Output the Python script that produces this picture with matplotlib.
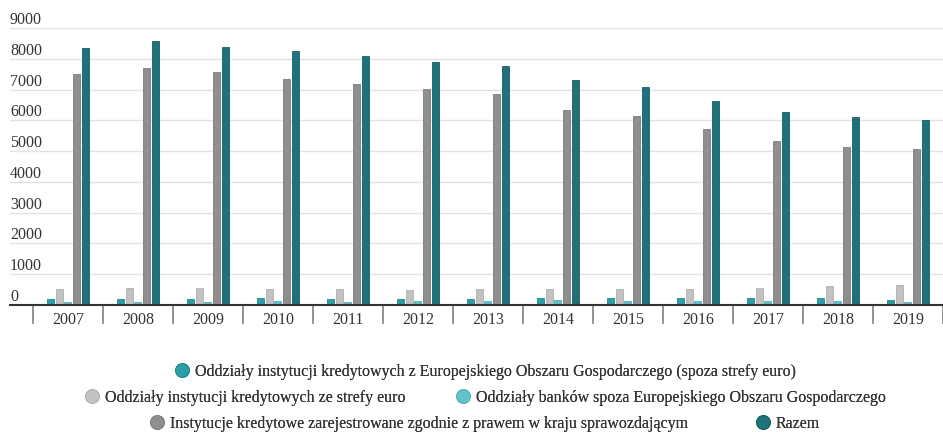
import numpy as np
import matplotlib
matplotlib.use("Agg")
from matplotlib import pyplot as plt
from matplotlib.lines import Line2D

years = ["2007", "2008", "2009", "2010", "2011", "2012", "2013",
         "2014", "2015", "2016", "2017", "2018", "2019"]
eog_poza_euro = [190, 190, 190, 220, 195, 195, 185, 240, 230, 235, 215, 215, 160]
strefa_euro = [535, 560, 550, 530, 530, 500, 510, 510, 535, 520, 555, 610, 650]
spoza_eog = [100, 100, 90, 140, 110, 130, 130, 165, 140, 130, 130, 130, 110]
krajowe = [7510, 7705, 7555, 7335, 7185, 7010, 6860, 6350, 6140, 5715, 5335, 5140, 5055]
razem = [8340, 8565, 8390, 8240, 8087, 7900, 7760, 7300, 7085, 6630, 6280, 6120, 6010]

series = [eog_poza_euro, strefa_euro, spoza_eog, krajowe, razem]
labels = [
    "Oddziały instytucji kredytowych z Europejskiego Obszaru Gospodarczego (spoza strefy euro)",
    "Oddziały instytucji kredytowych ze strefy euro",
    "Oddziały banków spoza Europejskiego Obszaru Gospodarczego",
    "Instytucje kredytowe zarejestrowane zgodnie z prawem w kraju sprawozdającym",
    "Razem",
]
colors = ["#2b9ea8", "#c2c2c2", "#62c2cb", "#8f8f8f", "#1f717a"]
edges = ["#1f8790", "#b0b0b0", "#52b0b9", "#7d7d7d", "#175c63"]

plt.rcParams["font.family"] = ["Liberation Serif", "DejaVu Serif"]

fig = plt.figure(figsize=(9.43, 4.32), dpi=100)
ax = fig.add_axes([10 / 943, 127 / 432, 933 / 943, 277 / 432])

x = np.arange(len(years))
step = 0.127
for i, vals in enumerate(series):
    ax.bar(x + (i - 2) * step, vals, width=0.1, color=colors[i],
           edgecolor=edges[i], linewidth=0.6, zorder=3)

ax.set_ylim(0, 9000)
ax.set_xlim(-0.827, 12.44)
ax.set_yticks(range(0, 9001, 1000))
ax.yaxis.grid(True, color="#e2e2e2", linewidth=1)
ax.tick_params(axis="y", length=0, labelleft=False)
for v in range(0, 9001, 1000):
    ax.text(0, v + 130, str(v), transform=ax.get_yaxis_transform(),
            ha="left", va="baseline", fontsize=11.5, color="#333333")

ax.set_xticks(x)
ax.set_xticklabels(years, fontsize=11.5, color="#333333")
ax.set_xticks(np.arange(-0.5, 12.6, 1), minor=True)
ax.tick_params(axis="x", which="major", length=0, pad=5)
ax.tick_params(axis="x", which="minor", length=14, width=1.2, color="#808080")

for s in ["top", "right", "left"]:
    ax.spines[s].set_visible(False)
ax.spines["bottom"].set_color("#333333")
ax.spines["bottom"].set_linewidth(1.5)
ax.spines["bottom"].set_zorder(4)

handles = [Line2D([], [], linestyle="none", marker="o", markersize=10,
                  markerfacecolor=c, markeredgecolor=e, markeredgewidth=0.6)
           for c, e in zip(colors, edges)]
# legend rows: item indices, row centre (px from top), column spacing
rows = [([0], 372, 3.6), ([1, 2], 398, 3.2), ([3, 4], 424, 4.3)]
for idx, ypix, cs in rows:
    leg = fig.legend([handles[i] for i in idx], [labels[i] for i in idx],
                     loc="center", bbox_to_anchor=(0.515, 1 - ypix / 432),
                     ncol=len(idx), frameon=False, fontsize=11.5,
                     handlelength=0.8, handletextpad=0.4, columnspacing=cs,
                     borderpad=0, borderaxespad=0)
    for t in leg.get_texts():
        t.set_color("#333333")
    fig.add_artist(leg)

fig.savefig("out.png", dpi=100, facecolor="white")
